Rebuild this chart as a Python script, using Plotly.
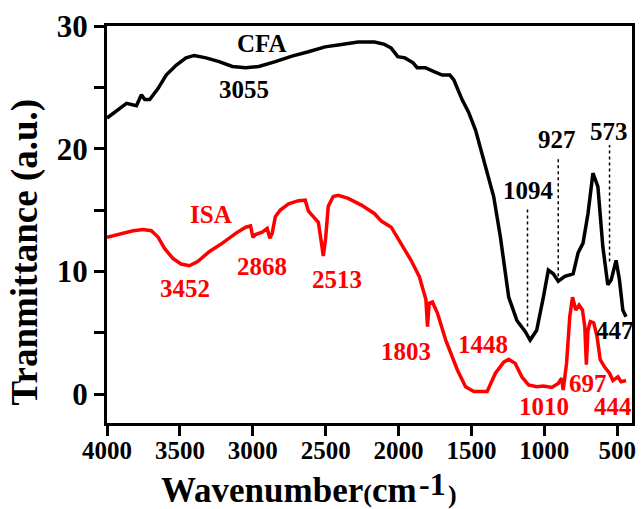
import plotly.graph_objects as go

# ---- data ----
cfa_x = [4000, 3934, 3866, 3798, 3764, 3741, 3707, 3650, 3594, 3526, 3458, 3401, 3321, 3231, 3140, 3049,
         2958, 2845, 2731, 2618, 2504, 2391, 2277, 2164, 2096, 2050, 2005, 1956, 1900, 1872, 1816, 1760,
         1700, 1648, 1620, 1564, 1520, 1471, 1415, 1347, 1301, 1267, 1244, 1188, 1131, 1097, 1052, 1006,
         972, 938, 904, 859, 802, 768, 734, 700, 666, 632, 598, 564, 541, 507, 484, 461, 439]
cfa_y = [22.5, 23.1, 23.7, 23.5, 24.4, 24.0, 24.0, 24.9, 26.0, 26.8, 27.4, 27.6, 27.4, 27.1, 26.7, 26.6,
         26.7, 27.1, 27.55, 27.9, 28.3, 28.5, 28.7, 28.7, 28.5, 28.2, 27.5, 27.4, 27.0, 26.6, 26.6, 26.3,
         26.0, 26.0, 25.6, 24.0, 23.0, 21.5, 19.1, 16.1, 12.8, 10.1, 7.9, 6.0, 5.1, 4.4, 5.2, 7.9,
         10.1, 9.8, 9.2, 9.6, 9.8, 11.5, 12.3, 14.7, 18.0, 16.9, 12.0, 8.9, 9.3, 10.9, 9.3, 6.85, 6.3]

isa_x = [4000, 3912, 3821, 3753, 3696, 3650, 3605, 3548, 3492, 3435, 3378, 3299, 3208, 3117, 3049, 3015,
         2999, 2981, 2935, 2901, 2883, 2867, 2845, 2811, 2754, 2686, 2640, 2618, 2572, 2550, 2531, 2516,
         2500, 2482, 2448, 2413, 2345, 2255, 2164, 2118, 2050, 1982, 1914, 1857, 1812, 1801, 1790, 1767,
         1733, 1676, 1596, 1540, 1483, 1392, 1335, 1278, 1244, 1199, 1154, 1108, 1051, 1006, 949, 904,
         881, 870, 847, 825, 806, 784, 761, 738, 722, 711, 700, 684, 661, 638, 616, 586, 552, 529, 495,
         473, 439]
isa_y = [12.77, 13.04, 13.31, 13.42, 13.31, 12.8, 11.87, 11.05, 10.6, 10.46, 10.8, 11.6, 12.3, 13.1, 13.6, 13.7,
         12.77, 13.0, 13.2, 13.5, 12.7, 13.1, 14.45, 15.0, 15.5, 15.76, 15.8, 14.9, 14.3, 14.0, 12.5, 11.25,
         12.7, 15.3, 16.1, 16.2, 15.95, 15.4, 14.7, 14.1, 13.6, 12.3, 10.9, 9.56, 7.7, 5.5, 7.4, 7.5,
         6.6, 4.4, 1.96, 0.6, 0.2, 0.2, 1.7, 2.6, 2.83, 2.5, 1.4, 0.74, 0.6, 0.65, 0.54, 0.87,
         1.28, 0.33, 2.5, 6.3, 7.9, 6.85, 7.25, 6.85, 5.5, 2.4, 5.2, 5.9, 5.8, 4.7, 2.8, 2.2, 1.7, 1.1, 1.4,
         1.0, 1.1]

guide_x = [1115, 904, 552]
guide_y0 = [5.5, 9.6, 10.8]
guide_y1 = [15.2, 19.3, 20.3]

x_ticks = [4000, 3500, 3000, 2500, 2000, 1500, 1000, 500]
y_ticks = [0, 5, 10, 15, 20, 25, 30]
y_ticktext = ["0", "", "10", "", "20", "", "30"]

cfa_labels = [("CFA", 2937, 28.6), ("3055", 3063, 24.8), ("1094", 1111, 16.57),
              ("927", 915, 20.75), ("573", 557, 21.4), ("447", 515, 5.2)]
isa_labels = [("ISA", 3287, 14.6), ("3452", 3463, 8.6), ("2868", 2937, 10.4), ("2513", 2419, 9.3),
              ("1803", 1948, 3.5), ("1448", 1417, 4.0), ("1010", 999, -1.03), ("697", 697, 0.87),
              ("444", 529, -1.03)]

FONT = "Liberation Serif"

fig = go.Figure()
for gx, a, b in zip(guide_x, guide_y0, guide_y1):
    fig.add_trace(go.Scatter(x=[gx, gx], y=[a, b], mode="lines",
                             line=dict(color="black", width=1.5, dash="dot"), showlegend=False))
fig.add_trace(go.Scatter(x=cfa_x, y=cfa_y, mode="lines", line=dict(color="black", width=3.5),
                         showlegend=False))
fig.add_trace(go.Scatter(x=isa_x, y=isa_y, mode="lines", line=dict(color="#ff0000", width=3.5),
                         showlegend=False))

annotations = []
for t, x, y in cfa_labels:
    annotations.append(dict(text=t, x=x, y=y, showarrow=False, xanchor="center", yanchor="middle",
                            font=dict(family=FONT, size=25, color="black", weight="bold")))
for t, x, y in isa_labels:
    annotations.append(dict(text=t, x=x, y=y, showarrow=False, xanchor="center", yanchor="middle",
                            font=dict(family=FONT, size=25, color="#ff0000", weight="bold")))

annotations.append(dict(text="Tranmittance (a.u.)", xref="paper", yref="paper", x=-0.157, y=0.431,
                        textangle=-90, showarrow=False, xanchor="center", yanchor="middle",
                        font=dict(family=FONT, size=37, color="black", weight="bold")))
title_font = dict(family=FONT, color="black", weight="bold")
annotations.append(dict(text="Wavenumber<span style='font-size:26px'>(</span>cm",
                        xref="paper", yref="paper", x=0.5936, y=-0.1707,
                        showarrow=False, xanchor="right", yanchor="middle",
                        font=dict(size=35, **title_font)))
annotations.append(dict(text="-1", xref="paper", yref="paper", x=0.5898, y=-0.153,
                        showarrow=False, xanchor="left", yanchor="middle",
                        font=dict(size=32, **title_font)))
annotations.append(dict(text=")", xref="paper", yref="paper", x=0.6465, y=-0.1793,
                        showarrow=False, xanchor="left", yanchor="middle",
                        font=dict(size=26, **title_font)))

fig.update_layout(
    width=643, height=509,
    margin=dict(l=107, r=7, t=26, b=86),
    paper_bgcolor="white", plot_bgcolor="white",
    annotations=annotations,
    xaxis=dict(range=[4000, 398], tickvals=x_ticks, ticks="outside", ticklen=10, tickwidth=3,
               tickcolor="black", showline=True, linewidth=3, linecolor="black", mirror=True,
               showgrid=False, zeroline=False, ticklabelstandoff=-7,
               tickfont=dict(family=FONT, size=25, color="black", weight="bold")),
    yaxis=dict(range=[-2.36, 30], tickvals=y_ticks, ticktext=y_ticktext, ticks="outside", ticklen=10,
               tickwidth=3, tickcolor="black", showline=True, linewidth=3, linecolor="black",
               mirror=True, showgrid=False, zeroline=False,
               tickfont=dict(family=FONT, size=31, color="black", weight="bold")),
)

fig.write_html("out.html")
